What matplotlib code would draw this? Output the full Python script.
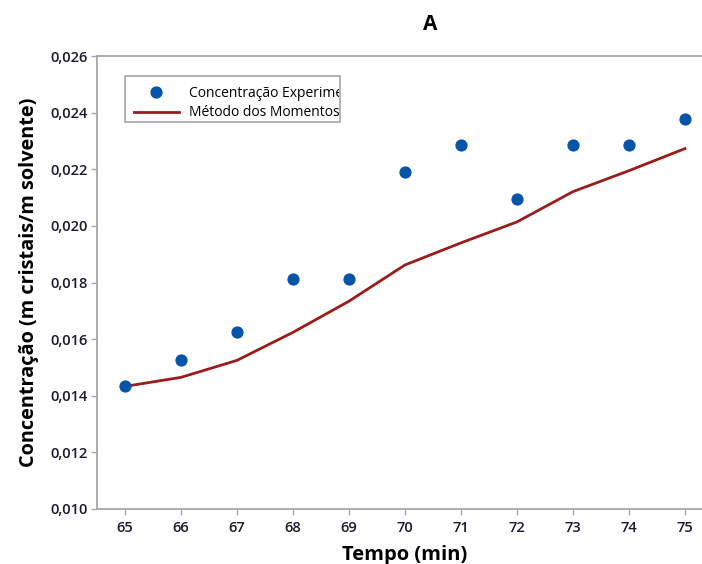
import matplotlib
matplotlib.use("Agg")
import matplotlib.pyplot as plt
from matplotlib.patches import Rectangle
from matplotlib.transforms import Bbox, TransformedBbox
from matplotlib.ticker import FuncFormatter

plt.rcParams['font.family'] = ['Open Sans', 'DejaVu Sans']

# data
tempo = [65, 66, 67, 68, 69, 70, 71, 72, 73, 74, 75]
conc_exp = [0.01433, 0.01528, 0.01624, 0.01812, 0.01812, 0.02191,
            0.02284, 0.02096, 0.02284, 0.02284, 0.02379]
conc_mom = [0.01433, 0.01465, 0.01525, 0.01624, 0.01734, 0.01862,
            0.01940, 0.02014, 0.02121, 0.02195, 0.02273]
yticks = [0.010, 0.012, 0.014, 0.016, 0.018, 0.020, 0.022, 0.024, 0.026]

W, H = 702, 564
fig = plt.figure(figsize=(7.02, 5.64), dpi=100, facecolor='white')
ax = fig.add_axes([97 / W, 1 - 509 / H, 616 / W, 453 / H])

ax.plot(tempo, conc_mom, color='#9b1c1c', lw=2.0, zorder=2,
        label='Método dos Momentos')
ax.plot(tempo, conc_exp, 'o', color='#0454a8', ms=7.8, zorder=3,
        label='Concentração Experimental')

ax.set_xlim(64.5, 75.5)
ax.set_ylim(0.010, 0.026)
ax.set_xticks(tempo)
ax.set_yticks(yticks)
ax.yaxis.set_major_formatter(FuncFormatter(lambda v, p: f"{v:.3f}".replace('.', ',')))

for s in ['left', 'bottom', 'top']:
    ax.spines[s].set_color('#a6a6a6')
    ax.spines[s].set_linewidth(1.3)
ax.spines['right'].set_visible(False)
ax.tick_params(axis='both', direction='out', length=4, width=1, color='#a6a6a6',
               labelsize=10.5, labelcolor='#1a1a2e')
ax.tick_params(axis='y', pad=3)
ax.tick_params(axis='x', pad=5)
for lab in ax.get_xticklabels() + ax.get_yticklabels():
    lab.set_fontweight('semibold')

ax.set_xlabel('Tempo (min)', fontsize=14.5, fontweight='bold', labelpad=7)
ax.set_ylabel('Concentração (m cristais/m solvente)', fontsize=14.3,
              fontweight='bold', labelpad=8)

fig.text(430 / W, 1 - 25 / H, 'A', ha='center', va='center',
         fontsize=15, fontweight='bold')

# legend, box cut off on the right like in the original
h, l = ax.get_legend_handles_labels()
leg = ax.legend(h[::-1], l[::-1], loc='upper left', frameon=False,
                bbox_to_anchor=(128 / W, 1 - 80 / H), bbox_transform=fig.transFigure,
                fontsize=10, handlelength=3.3, handletextpad=0.7,
                labelspacing=0.35, borderaxespad=0)
box = Rectangle((125 / W, 1 - 122 / H), 215 / W, 46 / H, transform=fig.transFigure,
                fill=False, edgecolor='#a6a6a6', lw=1.2, zorder=5)
fig.patches.append(box)
clip = TransformedBbox(Bbox([[125 / W, 1 - 122 / H], [339 / W, 1 - 76 / H]]),
                       fig.transFigure)
for t in leg.get_texts():
    t.set_clip_box(clip)
    t.set_clip_on(True)

fig.savefig('out.png', dpi=100)
